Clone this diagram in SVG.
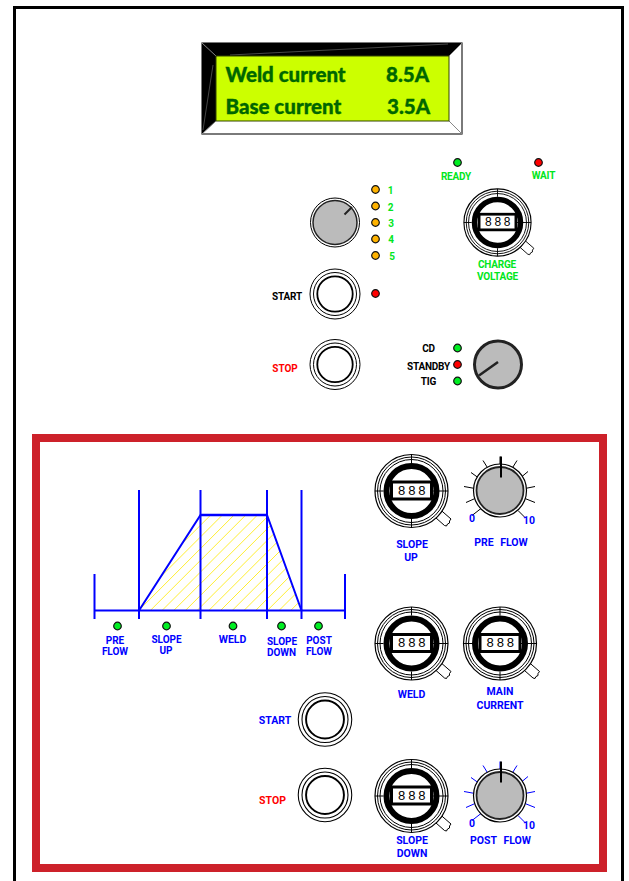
<svg xmlns="http://www.w3.org/2000/svg" width="629" height="881" viewBox="0 0 629 881">
<style>
text{font-family:"Roboto","Liberation Sans",Arial,sans-serif;font-weight:700;font-size:10.5px;text-anchor:middle}
.b{fill:#0000ff}.g{fill:#00e620;font-size:10px;letter-spacing:-.2px}.k{fill:#000;font-size:10px;letter-spacing:-.2px}.r{fill:#ff0000}
.c{font-size:10px}
.lcd{font-family:"Lato","Open Sans",sans-serif;font-weight:900;font-size:20.5px;fill:#006600;stroke:#006600;stroke-width:.35px;text-anchor:start}
.bl{stroke:#0000ff;stroke-width:2;fill:none}
.hat{stroke:#ffee33;stroke-width:1;fill:none}
.knob{fill:#bbb;stroke:#222}
</style>
<defs>
<g id="led"><circle r="3.8" stroke="#111" stroke-width="1.2"/></g>
<g id="btn"><circle r="25" fill="#fff" stroke="#000" stroke-width="1"/><circle r="21.500" fill="#fff" stroke="#000" stroke-width="1"/><circle r="17.700" fill="#fff" stroke="#000" stroke-width="1.800"/></g>
<g id="dial">
<path d="M20 23L33 34.500L35 35L36 33L38 32L38 30L39.500 28L28 18Z" fill="#fff" stroke="#000" stroke-width="1"/>
<circle r="36.500" fill="#fff" stroke="#000" stroke-width="1.200"/>
<circle r="34" fill="none" stroke="#000" stroke-width="1"/>
<circle r="31.500" fill="none" stroke="#000" stroke-width="1"/>
<circle r="25" fill="#fff" stroke="#000" stroke-width="6"/>
<path d="M0 -36.500V-28M0 36.500V28M-36.500 0H-28M36.500 0H20" stroke="#000" stroke-width="1"/>
<rect x="-20" y="-9" width="40" height="17" fill="#fff" stroke="#000" stroke-width="3"/>
<text x="1.500" y="3.700" class="k" style="font-family:'Liberation Mono',monospace;font-weight:400;font-size:13px;letter-spacing:2.400px">888</text>
</g>
<path id="ticks" d="M-17-30L-12-22M-29-18L-22-13M-36-4L-25-2M-34 12L-25 8M-28 25L-19 18M0-34V-24M17-30L12-22M28-19L22-14M35-4L25-2M35 12L25 8M25 27L18 20" fill="none" stroke-width="1"/>
<g id="gk"><circle r="26.500" fill="#fff" stroke="#000" stroke-width="1.200"/><circle r="23.500" class="knob" stroke-width="1.800"/><path d="M1-34V-13" stroke="#000" stroke-width="2"/></g>
</defs>
<rect width="629" height="881" fill="#fff"/>
<path d="M14.500 881V7.500H622.500V881" fill="none" stroke="#000" stroke-width="3"/>
<rect x="36" y="438" width="567" height="430" fill="#fff" stroke="#cd212a" stroke-width="8"/>

<g id="display">
<rect x="202" y="43" width="260" height="91" fill="#fff" stroke="#222" stroke-width="1.200"/>
<path d="M202 43H462L449 56H216V121L202 134Z" fill="#000"/>
<path d="M202 134L216 121M462 134L449 121M462 43L449 56M202 43L216 56" stroke="#888" stroke-width="1"/>
<path d="M230 55L448 44M213 65L203 130" stroke="#777" stroke-width=".6"/>
<rect x="216" y="56" width="233" height="65" fill="#ccff00" stroke="#334400" stroke-width="1"/>
<text x="225.500" y="82" class="lcd">Weld current</text><text x="386" y="82" class="lcd">8.5A</text>
<text x="225.500" y="114" class="lcd">Base current</text><text x="387" y="114" class="lcd">3.5A</text>
</g>

<g id="select-knob"><circle cx="335" cy="222.500" r="24.500" fill="#fff" stroke="#000" stroke-width="1"/><circle cx="335" cy="222.500" r="22" class="knob" stroke-width="1.500"/><path d="M344.500 214.500L352 207" stroke="#222" stroke-width="2"/>
</g>
<g id="program-leds">
<use href="#led" x="375.500" y="189.500" fill="#ffb300"/><text x="390.500" y="194" class="g">1</text>
<use href="#led" x="375.500" y="206" fill="#ffb300"/><text x="390.500" y="210.500" class="g">2</text>
<use href="#led" x="375.500" y="222.500" fill="#ffb300"/><text x="391" y="226.500" class="g">3</text>
<use href="#led" x="375.500" y="239" fill="#ffb300"/><text x="391" y="243" class="g">4</text>
<use href="#led" x="375.500" y="255.500" fill="#ffb300"/><text x="392" y="259.500" class="g">5</text>
</g>
<g id="ready"><use href="#led" x="457.500" y="162.500" fill="#00ee22"/><text x="456" y="179.500" class="g">READY</text></g>
<g id="wait"><use href="#led" x="538.500" y="162.500" fill="#ff0000"/><text x="543.500" y="178.500" class="g">WAIT</text></g>
<g id="charge-voltage"><use href="#dial" transform="translate(497.500 222.500) scale(.92)"/><text x="497" y="268" class="g">CHARGE</text><text x="497.500" y="280" class="g">VOLTAGE</text></g>
<g id="start-top"><use href="#btn" x="335" y="294"/><text x="287" y="300" class="k">START</text></g>
<g id="start-led"><use href="#led" x="375.500" y="293.500" fill="#ff0000"/></g>
<g id="stop-top"><use href="#btn" x="335" y="364.500"/><text x="285" y="372" class="r" style="font-size:10px">STOP</text></g>
<g id="mode">
<text x="428.500" y="352" class="k">CD</text><text x="428.500" y="370" class="k">STANDBY</text><text x="428.500" y="385" class="k">TIG</text>
<use href="#led" x="457.500" y="348" fill="#00ee22"/><use href="#led" x="457.500" y="364.500" fill="#ff0000"/><use href="#led" x="457.500" y="381" fill="#00ee22"/>
<circle cx="498" cy="364.500" r="23.500" fill="#bbb" stroke="#222" stroke-width="3"/><path d="M498 362L479 375.500" stroke="#222" stroke-width="2.500"/>
</g>

<g id="connectors">
<clipPath id="trap"><path d="M139 610L200 515H267L302 610Z"/></clipPath>
<g clip-path="url(#trap)"><path class="hat" d="M90 624L200 514M101.700 624L211.700 514M113.400 624L223.400 514M125.100 624L235.100 514M136.800 624L246.800 514M148.500 624L258.500 514M160.200 624L270.200 514M171.900 624L281.900 514M183.600 624L293.600 514M195.300 624L305.300 514M207 624L317 514M218.700 624L328.700 514M230.400 624L340.400 514M242.100 624L352.100 514M253.800 624L363.800 514M265.500 624L375.500 514M277.200 624L387.200 514M288.900 624L398.900 514"/></g>
<path class="bl" d="M94.500 574V619M345 574V619M139 490V619M200.500 490V619M267 490V619M301.500 490V619M94.500 610.500H345"/>
<path d="M139 610.500L200.500 515H267L301.500 610.500" fill="none" stroke="#0000ff" stroke-width="2"/>
<path d="M200.500 515H267" fill="none" stroke="#0000ff" stroke-width="2.500"/>
</g>

<g id="chart-labels">
<use href="#led" x="117.500" y="626" fill="#00ee22"/><text x="115" y="643.500" class="b c">PRE</text><text x="115" y="655" class="b c">FLOW</text>
<use href="#led" x="166.500" y="626" fill="#00ee22"/><text x="166.500" y="642.500" class="b c">SLOPE</text><text x="166" y="654" class="b c">UP</text>
<use href="#led" x="233" y="626" fill="#00ee22"/><text x="232.500" y="643" class="b">WELD</text>
<use href="#led" x="281.500" y="626" fill="#00ee22"/><text x="282" y="644.500" class="b c">SLOPE</text><text x="281.500" y="656" class="b c">DOWN</text>
<use href="#led" x="318.500" y="626" fill="#00ee22"/><text x="319" y="643.500" class="b c">POST</text><text x="319" y="655" class="b c">FLOW</text>
</g>

<g id="slope-up"><use href="#dial" x="411.500" y="491"/><text x="412" y="547.500" class="b">SLOPE</text><text x="411" y="561" class="b">UP</text></g>
<g id="pre-flow"><use href="#ticks" x="500" y="490.500" stroke="#000"/><use href="#gk" x="500" y="490.500"/><text x="472" y="522" class="b">0</text><text x="529" y="524" class="b">10</text><text x="501" y="546" class="b" style="word-spacing:4px">PRE FLOW</text></g>
<g id="weld"><use href="#dial" x="411.500" y="643.500"/><text x="411.500" y="698" class="b">WELD</text></g>
<g id="main-current"><use href="#dial" x="500" y="643.500"/><text x="500" y="695" class="b">MAIN</text><text x="500" y="709" class="b">CURRENT</text></g>
<g id="start-bottom"><use href="#btn" transform="translate(325 719.500) scale(1.07)"/><text x="275" y="723.500" class="b">START</text></g>
<g id="stop-bottom"><use href="#btn" transform="translate(325 795) scale(1.07)"/><text x="272.500" y="804" class="r">STOP</text></g>
<g id="slope-down"><use href="#dial" x="411.500" y="796"/><text x="412" y="844" class="b">SLOPE</text><text x="412" y="856.500" class="b">DOWN</text></g>
<g id="post-flow"><use href="#ticks" x="500" y="795.500" stroke="#0000ff"/><use href="#gk" x="500" y="795.500"/><text x="472" y="827" class="b">0</text><text x="529" y="829" class="b">10</text><text x="500.500" y="843.500" class="b" style="word-spacing:4px">POST FLOW</text></g>
</svg>
